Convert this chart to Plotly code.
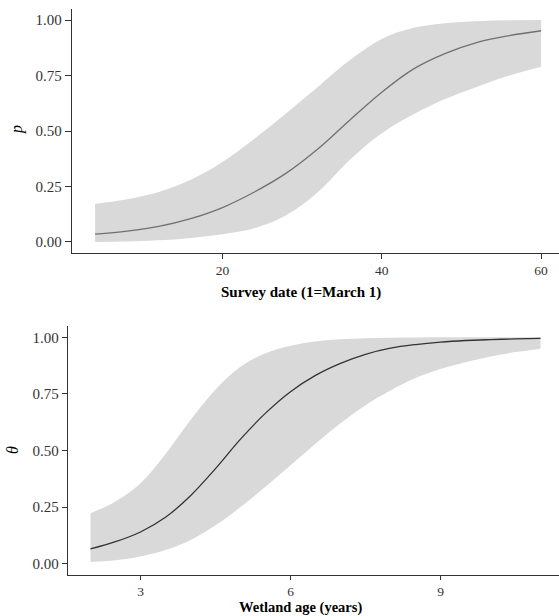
import plotly.graph_objects as go

# ---- Top panel: detection probability vs survey date ----
survey_date = [4, 8, 12, 16, 20, 24, 28, 32, 36, 40, 44, 48, 52, 56, 60]
p_mean = [0.035, 0.049, 0.070, 0.105, 0.155, 0.225, 0.310, 0.420, 0.550, 0.675, 0.780, 0.850, 0.900, 0.930, 0.952]
p_lower = [0.000, 0.002, 0.007, 0.018, 0.035, 0.062, 0.120, 0.225, 0.370, 0.490, 0.575, 0.645, 0.700, 0.750, 0.790]
p_upper = [0.171, 0.192, 0.225, 0.280, 0.360, 0.465, 0.580, 0.700, 0.820, 0.915, 0.965, 0.986, 0.995, 0.999, 1.000]
date_ticks = [20, 40, 60]

# ---- Bottom panel: occupancy vs wetland age ----
wetland_age = [2.0, 2.5, 3.0, 3.5, 4.0, 4.5, 5.0, 5.5, 6.0, 6.5, 7.0, 7.5, 8.0, 8.5, 9.0, 9.5, 10.0, 10.5, 11.0]
theta_mean = [0.065, 0.097, 0.140, 0.205, 0.300, 0.420, 0.550, 0.665, 0.760, 0.832, 0.885, 0.925, 0.952, 0.968, 0.979, 0.986, 0.990, 0.993, 0.995]
theta_lower = [0.007, 0.015, 0.032, 0.060, 0.105, 0.170, 0.250, 0.340, 0.435, 0.530, 0.620, 0.700, 0.765, 0.820, 0.860, 0.890, 0.915, 0.935, 0.950]
theta_upper = [0.223, 0.275, 0.355, 0.485, 0.635, 0.770, 0.870, 0.930, 0.963, 0.982, 0.991, 0.996, 0.998, 0.999, 1.000, 1.000, 1.000, 1.000, 1.000]
age_ticks = [3, 6, 9]

y_ticks = [0, 0.25, 0.5, 0.75, 1.0]
y_ticklabels = ["0.00", "0.25", "0.50", "0.75", "1.00"]

W, H = 559, 616
FONT = "Liberation Serif, Times New Roman, serif"
RIBBON = "#d9d9d9"
AXIS = "#333333"

fig = go.Figure()

# top ribbon + line
fig.add_trace(go.Scatter(x=survey_date, y=p_lower, mode="lines", line=dict(width=0, shape="spline"),
                         hoverinfo="skip", showlegend=False, xaxis="x", yaxis="y"))
fig.add_trace(go.Scatter(x=survey_date, y=p_upper, mode="lines", line=dict(width=0, shape="spline"),
                         fill="tonexty", fillcolor=RIBBON, hoverinfo="skip", showlegend=False,
                         xaxis="x", yaxis="y"))
fig.add_trace(go.Scatter(x=survey_date, y=p_mean, mode="lines",
                         line=dict(color="#707070", width=1.3, shape="spline"),
                         showlegend=False, xaxis="x", yaxis="y"))

# bottom ribbon + line
fig.add_trace(go.Scatter(x=wetland_age, y=theta_lower, mode="lines", line=dict(width=0, shape="spline"),
                         hoverinfo="skip", showlegend=False, xaxis="x2", yaxis="y2"))
fig.add_trace(go.Scatter(x=wetland_age, y=theta_upper, mode="lines", line=dict(width=0, shape="spline"),
                         fill="tonexty", fillcolor=RIBBON, hoverinfo="skip", showlegend=False,
                         xaxis="x2", yaxis="y2"))
fig.add_trace(go.Scatter(x=wetland_age, y=theta_mean, mode="lines",
                         line=dict(color="#333333", width=1.3, shape="spline"),
                         showlegend=False, xaxis="x2", yaxis="y2"))

axis_common = dict(showgrid=False, zeroline=False, showline=True, linecolor=AXIS, linewidth=1.3,
                   ticks="outside", tickwidth=1, tickcolor=AXIS)
yfont = dict(family=FONT, size=15, color="#333333")
xfont = dict(family=FONT, size=13.5, color="#333333")

fig.update_layout(
    width=W, height=H,
    margin=dict(l=0, r=0, t=0, b=0),
    paper_bgcolor="white", plot_bgcolor="white",
    showlegend=False,
    xaxis=dict(domain=[72 / W, 1], range=[1.1, 62.25], tickvals=date_ticks,
               anchor="y", ticklen=5, tickfont=xfont, **axis_common),
    yaxis=dict(domain=[1 - 253 / H, 1 - 9 / H], range=[-0.05, 1.05], tickvals=y_ticks,
               ticktext=y_ticklabels, anchor="x", ticklen=6, tickfont=yfont, **axis_common),
    xaxis2=dict(domain=[68 / W, 1], range=[1.55, 11.37], tickvals=age_ticks,
                anchor="y2", ticklen=4, tickfont=xfont, **axis_common),
    yaxis2=dict(domain=[1 - 575 / H, 1 - 326 / H], range=[-0.05, 1.05], tickvals=y_ticks,
                ticktext=y_ticklabels, anchor="x2", ticklen=5, tickfont=yfont, **axis_common),
)

annotations = [
    dict(text="<b>Survey date (1=March 1)</b>", x=301 / W, y=1 - 292 / H, xref="paper", yref="paper",
         showarrow=False, font=dict(family=FONT, size=15, color="black"), xanchor="center", yanchor="middle"),
    dict(text="<b>Wetland age (years)</b>", x=300 / W, y=1 - 607 / H, xref="paper", yref="paper",
         showarrow=False, font=dict(family=FONT, size=14.5, color="black"), xanchor="center", yanchor="middle"),
    dict(text="<i>p</i>", x=17 / W, y=1 - 130 / H, xref="paper", yref="paper", textangle=-90,
         showarrow=False, font=dict(family=FONT, size=16, color="black"), xanchor="center", yanchor="middle"),
    dict(text="<i>θ</i>", x=12 / W, y=1 - 450 / H, xref="paper", yref="paper", textangle=-90,
         showarrow=False, font=dict(family=FONT, size=16, color="black"), xanchor="center", yanchor="middle"),
]
fig.update_layout(annotations=annotations)

fig.write_html("out.html",
               config={"displayModeBar": False},
               post_script="document.body.style.margin='0';document.body.style.padding='0';"
                           "document.body.style.overflow='hidden';")
